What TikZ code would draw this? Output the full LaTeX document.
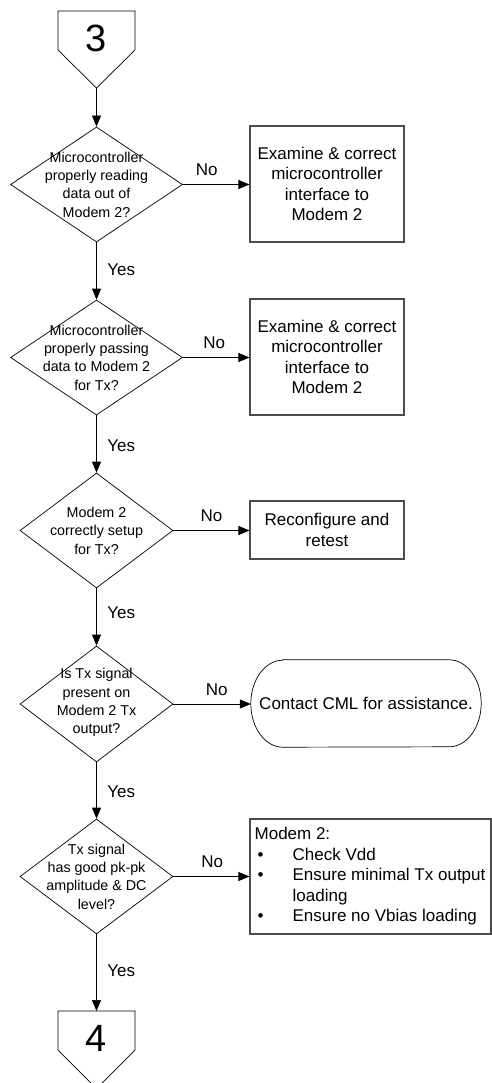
\documentclass[tikz,border=0pt]{standalone}
\usepackage{fontspec}
\setmainfont{Liberation Sans}
\usetikzlibrary{shapes.geometric,arrows.meta}
\begin{document}
\begin{tikzpicture}[x=1pt,y=1pt,
  dia/.style={shape=diamond, draw=black, line width=0.7pt, inner sep=0pt},
  diatext/.style={align=center, inner sep=0pt, font=\fontsize{14.3}{18.4}\selectfont},
  procbox/.style={draw=black!70, line width=1.1pt, align=center, inner sep=0pt, font=\fontsize{17}{20.5}\selectfont},
  arr/.style={line width=0.7pt, -{Triangle[length=11pt,width=9pt]}},
  lbl/.style={font=\fontsize{17}{20}\selectfont, inner sep=0pt},
  conn/.style={draw=black, line width=0.7pt},
  digit/.style={font=\fontsize{38}{40}\selectfont, inner sep=0pt}]
\useasboundingbox (0,0) rectangle (492,-1083);
\fill[white] (0,0) rectangle (492,-1083);

% off-page connector 3
\node[digit] (c3) at (96.5,-38.5) {3};
\coordinate (c3tip) at (96.5,-88);
\draw[conn] (58,-11) -- (135,-11) -- (135,-50) -- (c3tip) -- (58,-50) -- cycle;

% decisions
\node[dia, minimum width=172pt, minimum height=115pt] (d1) at (96.5,-184.5) {};
\node[diatext] (d1t) at (d1.center) {Microcontroller\\properly reading\\data out of\\Modem 2?};
\node[dia, minimum width=172pt, minimum height=115pt] (d2) at (96.5,-357.5) {};
\node[diatext] (d2t) at (d2.center) {Microcontroller\\properly passing\\data to Modem 2\\for Tx?};
\node[dia, minimum width=153pt, minimum height=115pt] (d3) at (96.5,-530.5) {};
\node[diatext] (d3t) at (d3.center) {Modem 2\\correctly setup\\for Tx?};
\node[dia, minimum width=153pt, minimum height=116pt] (d4) at (96.5,-704) {};
\node[diatext] (d4t) at ([yshift=1.5pt]d4.center) {Is Tx signal\\present on\\Modem 2 Tx\\output?};
\node[dia, minimum width=153pt, minimum height=115pt] (d5) at (96.5,-876.5) {};
\node[diatext] (d5t) at (d5.center) {Tx signal\\has good pk-pk\\amplitude \& DC\\level?};

% action boxes
\node[procbox, minimum width=154pt, minimum height=116pt] (b1) at (327,-184) {Examine \& correct\\microcontroller\\interface to\\Modem 2};
\node[procbox, minimum width=154pt, minimum height=116pt] (b2) at (327,-357) {Examine \& correct\\microcontroller\\interface to\\Modem 2};
\node[procbox, minimum width=154pt, minimum height=58pt] (b3) at (327,-530) {Reconfigure and\\retest};

% terminator
\node[inner sep=0pt, minimum width=230pt, minimum height=87pt, font=\fontsize{17}{20.5}\selectfont] (t4) at (366,-703.5) {Contact CML for assistance.};
\draw[conn] ([xshift=32pt]t4.north west) -- ([xshift=-32pt]t4.north east)
  arc[start angle=90, end angle=-90, x radius=32pt, y radius=43.5pt]
  -- ([xshift=32pt]t4.south west)
  arc[start angle=270, end angle=90, x radius=32pt, y radius=43.5pt] -- cycle;

% checklist box
\node[procbox, minimum width=241pt, minimum height=115pt] (b5) at (370.5,-876.5) {};
\node[anchor=west, align=left, inner sep=0pt, font=\fontsize{17}{20.5}\selectfont] (b5t) at ([xshift=5pt]b5.west)
 {Modem 2:\\
  \makebox[38pt][l]{\hspace{3pt}\textbullet}Check Vdd\\
  \makebox[38pt][l]{\hspace{3pt}\textbullet}Ensure minimal Tx output\\
  \makebox[38pt][l]{}loading\\
  \makebox[38pt][l]{\hspace{3pt}\textbullet}Ensure no Vbias loading};

% off-page connector 4
\node[digit] (c4) at (96.5,-1038) {4};
\coordinate (c4top) at (96.5,-1011);
\draw[conn] (58,-1011) -- (135,-1011) -- (135,-1050) -- (96.5,-1088.5) -- (58,-1050) -- cycle;

% vertical flow
\draw[arr] (c3tip) -- (d1.north);
\draw[arr] (d1.south) -- node[lbl, pos=0.48, anchor=west, xshift=10.5pt] {Yes} (d2.north);
\draw[arr] (d2.south) -- node[lbl, pos=0.53, anchor=west, xshift=10.5pt] {Yes} (d3.north);
\draw[arr] (d3.south) -- node[lbl, pos=0.43, anchor=west, xshift=10.5pt] {Yes} (d4.north);
\draw[arr] (d4.south) -- node[lbl, pos=0.53, anchor=west, xshift=10.5pt] {Yes} (d5.north);
\draw[arr] (d5.south) -- node[lbl, pos=0.48, anchor=west, xshift=10.5pt] {Yes} (c4top);

% No branches
\draw[arr] (d1.east) -- node[lbl, pos=0.36, above=8pt] {No} (d1.east -| b1.west);
\draw[arr] (d2.east) -- node[lbl, pos=0.47, above=8pt] {No} (d2.east -| b2.west);
\draw[arr] (d3.east) -- node[lbl, pos=0.5, above=8pt] {No} (d3.east -| b3.west);
\draw[arr] (d4.east) -- node[lbl, pos=0.56, above=8pt] {No} (d4.east -| t4.west);
\draw[arr] (d5.east) -- node[lbl, pos=0.51, above=8pt] {No} (d5.east -| b5.west);
\end{tikzpicture}
\end{document}
